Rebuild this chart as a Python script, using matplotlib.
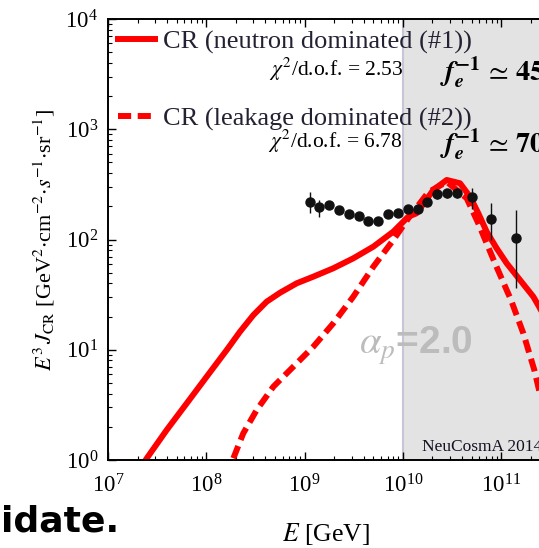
import numpy as np
from matplotlib import pyplot as plt

plt.rcParams['font.family'] = ['Liberation Serif', 'DejaVu Serif']
plt.rcParams['mathtext.fontset'] = 'stix'

# Auger-like data (log10 E[GeV], E^3 J)
logE_data = [9.05, 9.15, 9.25, 9.35, 9.45, 9.55, 9.65, 9.75, 9.85, 9.95,
             10.05, 10.15, 10.25, 10.35, 10.45, 10.55, 10.70, 10.90, 11.15]
J_data = [217, 196, 206, 185, 169, 165, 147, 146, 171, 174,
          188, 190, 220, 260, 264, 262, 244, 153, 104]
J_lo = [175, 161, 192, 173, 159, 156, 139, 139, 163, 166,
        180, 182, 205, 232, 240, 240, 189, 99, 36]
J_hi = [269, 228, 221, 198, 180, 175, 156, 154, 180, 183,
        197, 199, 236, 285, 288, 286, 293, 216, 185]

# model 1: neutron dominated (solid)
logE_1 = [7.30, 7.394, 7.597, 7.801, 8.004, 8.208, 8.343, 8.479, 8.614, 8.750,
          8.920, 9.089, 9.292, 9.495, 9.699, 9.902, 10.055, 10.140, 10.309,
          10.446, 10.581, 10.683, 10.767, 10.852, 10.954, 11.056, 11.191,
          11.327, 11.385, 11.5]
logJ_1 = [-0.12, 0.015, 0.272, 0.514, 0.756, 0.998, 1.164, 1.315, 1.436, 1.517,
          1.603, 1.663, 1.739, 1.829, 1.935, 2.071, 2.207, 2.238, 2.449,
          2.540, 2.510, 2.388, 2.238, 2.071, 1.920, 1.784, 1.633,
          1.481, 1.391, 1.2]

# model 2: leakage dominated (dashed)
logE_2 = [8.20, 8.275, 8.376, 8.513, 8.682, 8.885, 9.089, 9.292, 9.495, 9.699,
          9.902, 10.055, 10.258, 10.446, 10.649, 10.767, 10.937, 11.100,
          11.225, 11.337, 11.385, 11.5]
logJ_2 = [-0.15, 0.015, 0.242, 0.454, 0.665, 0.846, 1.028, 1.240, 1.481, 1.753,
          1.995, 2.192, 2.428, 2.524, 2.374, 2.147, 1.784, 1.451,
          1.149, 0.816, 0.635, 0.25]

labels = ['CR (neutron dominated (#1))', 'CR (leakage dominated (#2))']
chi2 = [2.53, 6.78]
fe_inv = ['45', '70']

W, H = 539, 548
fig = plt.figure(figsize=(W/100, H/100), dpi=100)
ax = fig.add_axes([108/W, 88/H, 5*98.3/W, 441/H])

ax.axvspan(1e10, 1e13, color='#e3e3e3', zorder=0, lw=0)
ax.axvline(1e10, color='#c6c6d8', lw=1.5, zorder=0.5)

E_data = 10**np.array(logE_data)
J_data = np.array(J_data)
yerr = [J_data - np.array(J_lo), np.array(J_hi) - J_data]

l1, = ax.plot(10**np.array(logE_1), 10**np.array(logJ_1), color='#ff0000', lw=4.3,
              solid_joinstyle='round', zorder=2)
l2, = ax.plot(10**np.array(logE_2), 10**np.array(logJ_2), color='#ff0000', lw=4.3,
              ls=(0, (2.2, 1.1)), zorder=2)
ax.errorbar(E_data, J_data, yerr=yerr, fmt='o', color='#111111', ms=6.5,
            elinewidth=1, capsize=0, zorder=3)

ax.set_xscale('log')
ax.set_yscale('log')
ax.set_xlim(1e7, 1e12)
ax.set_ylim(1, 1e4)
ax.tick_params(which='both', direction='in', top=True, right=True, labelsize=16.5)
ax.tick_params(axis='x', pad=10)
ax.tick_params(axis='y', pad=7)
ax.tick_params(which='major', length=6, width=1)
ax.tick_params(which='minor', length=3, width=0.8)
for s in ax.spines.values():
    s.set_linewidth(1.4)

ax.set_xlabel(r'$E$ [GeV]', fontsize=18.5, va='top')
ax.xaxis.set_label_coords((326 - 108)/491.5, -(521 - 460)/441)
ax.set_ylabel(r'$E^3\,J_{\mathrm{CR}}$ [GeV$^2$$\cdot$cm$^{-2}$$\cdot$$s^{-1}$$\cdot$sr$^{-1}$]',
              fontsize=16, labelpad=6)

leg = ax.legend([l1, l2], labels, loc='upper left', bbox_to_anchor=(118/W, 1 - 30/H),
                bbox_transform=fig.transFigure, frameon=False, fontsize=19,
                handlelength=1.4, handletextpad=0.3, labelspacing=2.02,
                borderpad=0, borderaxespad=0)
for t in leg.get_texts():
    t.set_color('#222233')

for i, (c, f) in enumerate(zip(chi2, fe_inv)):
    y = 1 - (69 + 72*i)/H
    fig.text(403/W, y, r'$\chi^2$/d.o.f. = %.2f' % c, fontsize=15.5, ha='right', va='center')
    fig.text(440/W, y - 4/H, r'$\mathbfit{f}_{\mathbfit{e}}^{\mathbf{-1}}\,\simeq\,\mathbf{%s}$' % f,
             fontsize=20.5, ha='left', va='center')

fig.text(359/W, 1 - 346/H, r'$\alpha_p$=2.0', fontsize=28, color='#bcbcbc',
         family='Liberation Sans', weight='bold', ha='left', va='center')
fig.text(422/W, 1 - 447/H, 'NeuCosmA 2014', fontsize=12.5, color='#111122',
         ha='left', va='center')
fig.text(1/W, 1 - 522/H, 'idate.', fontsize=26, family='DejaVu Sans', weight='bold',
         ha='left', va='center')

fig.savefig('out.png', dpi=100)
